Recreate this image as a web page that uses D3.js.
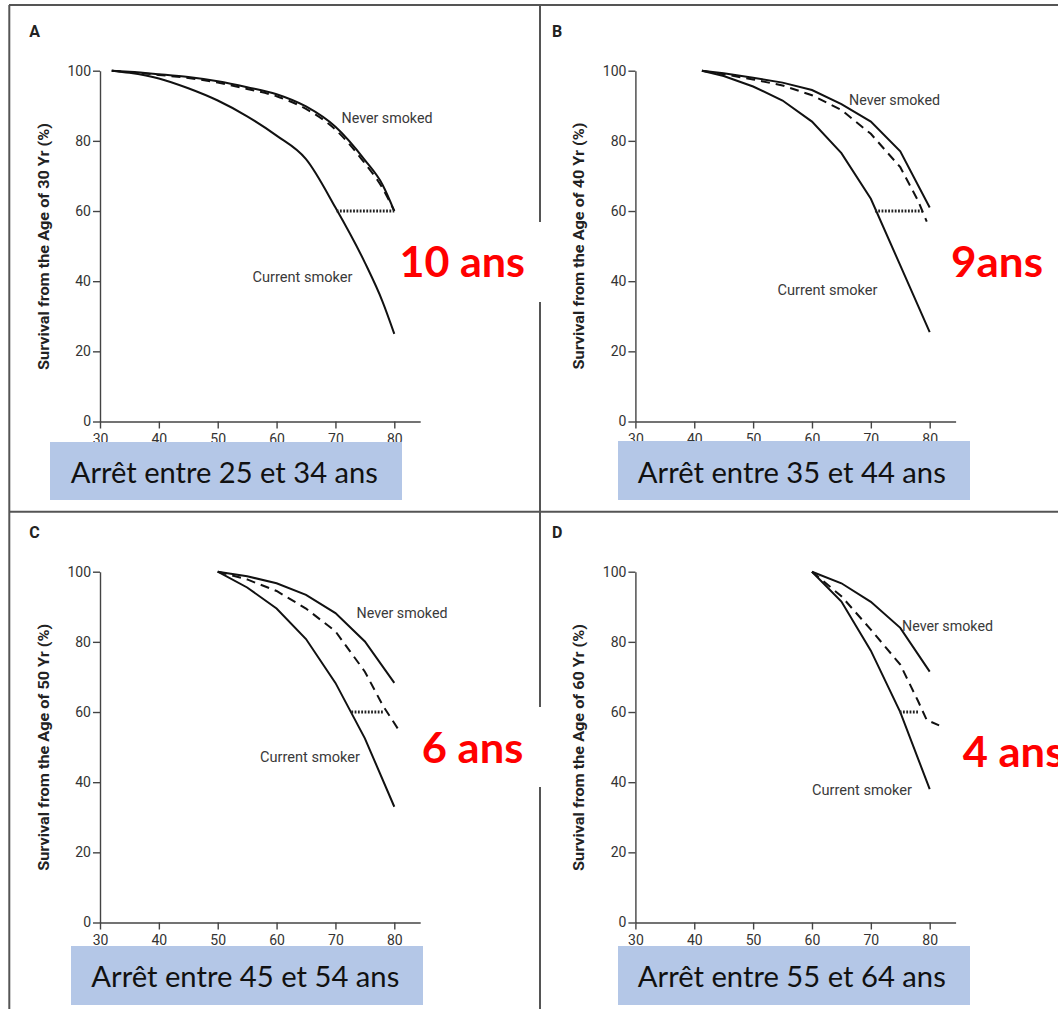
<!DOCTYPE html>
<html lang="fr">
<head>
<meta charset="UTF-8">
<title>Survie selon l'âge d'arrêt du tabac</title>
<script src="https://d3js.org/d3.v7.min.js"></script>
<style>
  body { margin: 0; background: #fff; }
  svg { display: block; }
  .axis path, .axis line { stroke: #444; stroke-width: 1.4; }
  .axis text { font-family: Roboto, sans-serif; font-size: 14px; fill: #333; }
  .curve { fill: none; stroke: #111; stroke-width: 2; }
  .stopped { stroke-dasharray: 9 6; }
  .gap { stroke: #222; stroke-width: 3; stroke-dasharray: 1.8 1.5; }
  .series-label { font-family: Roboto, sans-serif; font-size: 15px; fill: #3a3a3a; }
  .letter { font-family: Roboto, sans-serif; font-weight: 700; font-size: 16px; fill: #222; }
  .ytitle { font-family: Roboto, sans-serif; font-weight: 700; font-size: 15px; fill: #222; }
  .gain { font-family: Lato, sans-serif; font-weight: 700; font-size: 42px; fill: #ff0000; }
  .stop { font-family: Lato, sans-serif; font-size: 29px; fill: #111; }
</style>
</head>
<body>
<script>
const xTicks = [30, 40, 50, 60, 70, 80];
const yTicks = [0, 20, 40, 60, 80, 100];
const panelLetters = ["A", "B", "C", "D"];
const fromAges = [30, 40, 50, 60];
const stopLabels = ["Arrêt entre 25 et 34 ans", "Arrêt entre 35 et 44 ans",
                    "Arrêt entre 45 et 54 ans", "Arrêt entre 55 et 64 ans"];
const gainLabels = ["10 ans", "9ans", "6 ans", "4 ans"];

// A - survival from age 30
const agesA     = [32, 35, 40, 45, 50, 55, 60, 65, 70, 75, 78, 80];
const neverA    = [100, 99.7, 99.0, 98.2, 97.0, 95.3, 93.3, 89.8, 84.0, 74.5, 67.5, 60];
const stoppedA  = [100, 99.6, 98.8, 97.9, 96.6, 94.8, 92.7, 89.1, 83.2, 73.6, 66.5, 60];
const currentA  = [100, 99.4, 97.8, 95.0, 91.5, 87.0, 81.5, 74.8, 61.0, 45.3, 34.2, 25];

// B - survival from age 40
const agesB        = [41.3, 45, 50, 55, 60, 65, 70, 75, 80];
const neverB       = [100, 99.3, 98.0, 96.6, 94.5, 90.5, 85.5, 77.0, 61];
const currentB     = [100, 98.5, 95.5, 91.5, 85.5, 76.5, 63.5, 44.5, 25.5];
const stoppedAgesB = [41.3, 45, 50, 55, 60, 65, 70, 75, 78, 79.5];
const stoppedB     = [100, 99.0, 97.5, 95.8, 93.0, 88.8, 82.0, 72.5, 63, 57];

// C - survival from age 50
const agesC        = [50, 55, 60, 65, 70, 75, 80];
const neverC       = [100, 98.7, 96.7, 93.4, 88.2, 80.1, 68.3];
const currentC     = [100, 95.5, 89.5, 80.8, 68.3, 52.5, 33];
const stoppedAgesC = [50, 55, 60, 65, 70, 75, 78, 80.7];
const stoppedC     = [100, 97.8, 94.5, 89.5, 83.0, 71.5, 62, 55];

// D - survival from age 60
const agesD        = [60, 65, 70, 75, 80];
const neverD       = [100, 96.7, 91.4, 84.0, 71.5];
const currentD     = [100, 91.5, 77.5, 60.0, 38];
const stoppedAgesD = [60, 65, 70, 75, 78, 79.5, 81.6];
const stoppedD     = [100, 93.0, 83.5, 73.5, 63.2, 57.7, 56.2];

// horizontal gap at 60 % between current smoker and stopped
const gapLevel = 60;
const gapFrom = [70.2, 70.7, 72.7, 74.9];
const gapTo   = [80, 78.7, 78.1, 78.1];

const zip = (a, v) => a.map((d, i) => ({ age: d, v: v[i] }));

const panels = [
  { never: zip(agesA, neverA), stopped: zip(agesA, stoppedA), current: zip(agesA, currentA), curve: d3.curveMonotoneX },
  { never: zip(agesB, neverB), stopped: zip(stoppedAgesB, stoppedB), current: zip(agesB, currentB), curve: d3.curveLinear },
  { never: zip(agesC, neverC), stopped: zip(stoppedAgesC, stoppedC), current: zip(agesC, currentC), curve: d3.curveLinear },
  { never: zip(agesD, neverD), stopped: zip(stoppedAgesD, stoppedD), current: zip(agesD, currentD), curve: d3.curveLinear }
];

// page placement of each panel's pieces
const layout = [
  { ox: 100, oy: 70.7, letter: [29.3, 36.7], title: [49.2, 246.5], never: [341.5, 123], current: [252.5, 281.5],
    cover: [385, 222, 161, 80], gain: [399.5, 277, 125.5], box: [50, 442, 352, 58], stop: [224.3, 483, 307] },
  { ox: 635.4, oy: 70.7, letter: [552, 36.7], title: [584, 246], never: [849, 105], current: [777.5, 295],
    cover: [945, 222, 113, 80], gain: [951, 277, 92], box: [618, 441, 352, 59], stop: [791.8, 483, 308] },
  { ox: 100, oy: 571.7, letter: [29.3, 538.3], title: [49.2, 747.3], never: [356.5, 617.5], current: [260, 761.5],
    cover: [405, 707, 141, 80], gain: [421.8, 763, 101.6], box: [71, 946, 352, 59], stop: [245.3, 987, 308] },
  { ox: 635.4, oy: 571.7, letter: [552, 538.3], title: [584, 747.5], never: [902, 631], current: [812, 795],
    cover: [942, 711, 116, 79], gain: [962.7, 767, 101.6], box: [618, 946, 352, 59], stop: [791.8, 987, 308] }
];

const W = 1058, H = 1009;
const plotW = 320.2, plotH = 350.8;

const svg = d3.select("body").append("svg")
    .attr("width", W)
    .attr("height", H);

svg.append("rect").attr("width", W).attr("height", H).attr("fill", "#fff");

// frame around the four panels
const frame = svg.append("g").attr("stroke", "#555").attr("stroke-width", 2);
frame.append("line").attr("x1", 9).attr("y1", 5).attr("x2", W).attr("y2", 5);
frame.append("line").attr("x1", 9.3).attr("y1", 5).attr("x2", 9.3).attr("y2", H);
frame.append("line").attr("x1", 540).attr("y1", 5).attr("x2", 540).attr("y2", H);
frame.append("line").attr("x1", 9).attr("y1", 511.7).attr("x2", W).attr("y2", 511.7);

const x = d3.scaleLinear().domain([30, 84.4]).range([0, plotW]);
const y = d3.scaleLinear().domain([0, 100]).range([plotH, 0]);

panels.forEach((p, i) => {
    const L = layout[i];
    const g = svg.append("g").attr("transform", `translate(${L.ox}, ${L.oy})`);

    g.append("g")
        .attr("class", "axis")
        .attr("transform", `translate(0, ${plotH})`)
        .call(d3.axisBottom(x).tickValues(xTicks).tickSize(7).tickPadding(6).tickSizeOuter(0))
        .attr("font-family", null).attr("font-size", null);

    g.append("g")
        .attr("class", "axis")
        .call(d3.axisLeft(y).tickValues(yTicks).tickSize(7).tickPadding(2).tickSizeOuter(0))
        .attr("font-family", null).attr("font-size", null);

    const line = d3.line()
        .x(d => x(d.age))
        .y(d => y(d.v))
        .curve(p.curve);

    g.append("path").datum(p.never).attr("class", "curve").attr("d", line);
    g.append("path").datum(p.current).attr("class", "curve").attr("d", line);
    g.append("path").datum(p.stopped).attr("class", "curve stopped").attr("d", line);

    g.append("line")
        .attr("class", "gap")
        .attr("x1", x(gapFrom[i])).attr("x2", x(gapTo[i]))
        .attr("y1", y(gapLevel)).attr("y2", y(gapLevel));

    svg.append("text")
        .attr("class", "letter")
        .attr("x", L.letter[0]).attr("y", L.letter[1])
        .text(panelLetters[i]);

    svg.append("text")
        .attr("class", "ytitle")
        .attr("transform", `translate(${L.title[0]}, ${L.title[1]}) rotate(-90)`)
        .attr("text-anchor", "middle")
        .attr("textLength", 247)
        .attr("lengthAdjust", "spacingAndGlyphs")
        .text(`Survival from the Age of ${fromAges[i]} Yr (%)`);

    svg.append("text")
        .attr("class", "series-label")
        .attr("x", L.never[0]).attr("y", L.never[1])
        .attr("textLength", 91).attr("lengthAdjust", "spacingAndGlyphs")
        .text("Never smoked");

    svg.append("text")
        .attr("class", "series-label")
        .attr("x", L.current[0]).attr("y", L.current[1])
        .attr("textLength", 100).attr("lengthAdjust", "spacingAndGlyphs")
        .text("Current smoker");
});

// white text boxes with the years gained, then the blue captions
layout.forEach((L, i) => {
    svg.append("rect")
        .attr("x", L.cover[0]).attr("y", L.cover[1])
        .attr("width", L.cover[2]).attr("height", L.cover[3])
        .attr("fill", "#fff");

    svg.append("text")
        .attr("class", "gain")
        .attr("x", L.gain[0]).attr("y", L.gain[1])
        .attr("textLength", L.gain[2]).attr("lengthAdjust", "spacingAndGlyphs")
        .text(gainLabels[i]);
});

layout.forEach((L, i) => {
    svg.append("rect")
        .attr("x", L.box[0]).attr("y", L.box[1])
        .attr("width", L.box[2]).attr("height", L.box[3])
        .attr("fill", "#b4c7e7");

    svg.append("text")
        .attr("class", "stop")
        .attr("x", L.stop[0]).attr("y", L.stop[1])
        .attr("text-anchor", "middle")
        .attr("textLength", L.stop[2]).attr("lengthAdjust", "spacingAndGlyphs")
        .text(stopLabels[i]);
});
</script>
</body>
</html>
